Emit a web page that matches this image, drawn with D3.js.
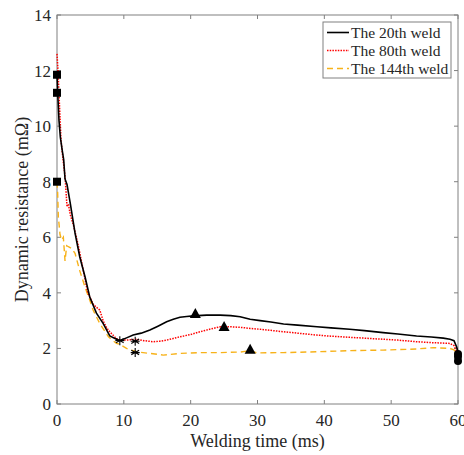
<!DOCTYPE html>
<html><head><meta charset="utf-8">
<script src="https://cdn.jsdelivr.net/npm/d3@7"></script>
<style>body{margin:0;background:#fff}svg{display:block}</style>
</head><body><div id="chart"></div>
<script>
const xTicks = [0,10,20,30,40,50,60];
const yTicks = [0,2,4,6,8,10,12,14];
const seriesNames = ["The 20th weld","The 80th weld","The 144th weld"];

const weld20T = [0,0.1,0.3,0.5,0.8,1.0,1.2,1.5,2.0,2.7,3.4,4.2,4.9,5.9,6.9,7.9,8.9,9.4,10.4,11.4,12.6,13.9,15.1,16.4,17.4,18.4,19.4,20.4,22.4,24.4,26,27.4,28.9,30.4,32,33.9,36,38.9,41,43.8,46,48.8,51,53.8,56,57.8,58.8,59.4,59.8,60];
const weld20R = [11.85,11.2,10.2,9.6,9.1,8.8,8.1,7.9,7.2,6.15,5.3,4.57,3.85,3.27,2.9,2.45,2.33,2.28,2.38,2.48,2.55,2.66,2.8,2.96,3.05,3.12,3.15,3.17,3.2,3.2,3.18,3.14,3.05,3.0,2.95,2.88,2.84,2.78,2.74,2.69,2.64,2.57,2.52,2.45,2.41,2.37,2.33,2.28,2.05,1.87];

const weld80T = [0,0.15,0.4,0.6,0.9,1.2,1.5,1.7,2.0,2.5,3.0,3.4,3.9,4.6,5.4,5.8,6.4,6.9,7.4,7.9,8.9,9.4,10.4,11.9,13.0,14.4,15.4,16.4,17.4,18.4,20,21.4,23,24.4,26,27.4,28.9,30.4,33.9,36,38.9,41,43.8,46,48.8,51,53.8,56,58.8,59.4,59.8,60];
const weld80R = [12.6,12.0,10.6,9.5,8.8,8.2,7.1,7.2,6.8,6.4,5.9,5.45,4.85,4.0,3.6,3.5,3.38,3.0,2.75,2.6,2.35,2.3,2.3,2.33,2.28,2.24,2.26,2.3,2.36,2.42,2.5,2.6,2.7,2.78,2.78,2.76,2.72,2.69,2.6,2.55,2.48,2.44,2.4,2.37,2.33,2.3,2.24,2.21,2.18,2.1,1.9,1.75];

const weld144T = [0,0.1,0.2,0.45,0.7,0.95,1.2,1.45,1.7,2.2,2.7,3.4,4.2,4.9,5.4,6.4,7.7,8.9,9.4,10.4,11.9,13.9,15.9,18.4,21.4,24.4,27.4,28.9,29.9,33.9,38.9,43.8,48.8,53.8,56.3,58.8,59.4,59.8,60];
const weld144R = [8.0,7.6,6.74,6.1,5.9,6.0,5.15,5.7,5.66,5.6,5.42,4.8,4.2,3.74,3.38,2.9,2.42,2.18,2.15,2.0,1.88,1.82,1.76,1.82,1.85,1.85,1.87,1.92,1.84,1.85,1.88,1.92,1.94,1.98,2.03,2.0,1.95,1.82,1.75];

const squareT = [0,0,0];
const squareR = [11.85,11.2,8.0];
const starT = [9.4,11.7,11.7];
const starR = [2.28,2.26,1.85];
const triT = [20.7,25.0,28.9];
const triR = [3.24,2.77,1.95];
const circT = [60,60,60];
const circR = [1.8,1.7,1.55];

const FONT = "'Liberation Serif', 'Times New Roman', 'DejaVu Serif', serif";
const W = 464, H = 455;
const m = {l:57, r:6, t:15, b:51};
const svg = d3.select("#chart").append("svg").attr("width",W).attr("height",H)
  .attr("font-family",FONT).style("font-family",FONT);
const x = d3.scaleLinear().domain([0,60]).range([m.l, W-m.r]);
const y = d3.scaleLinear().domain([0,14]).range([H-m.b, m.t]);
const axisColor = "#808080";
const txtColor = "#262626";

svg.append("rect").attr("x",x(0)).attr("y",y(14)).attr("width",x(60)-x(0)).attr("height",y(0)-y(14))
  .attr("fill","none").attr("stroke",axisColor).attr("stroke-width",1);

const tl = 4;
const gx = svg.append("g");
xTicks.forEach(v=>{
  gx.append("line").attr("x1",x(v)).attr("x2",x(v)).attr("y1",y(0)).attr("y2",y(0)-tl).attr("stroke",axisColor);
  gx.append("line").attr("x1",x(v)).attr("x2",x(v)).attr("y1",y(14)).attr("y2",y(14)+tl).attr("stroke",axisColor);
  gx.append("text").attr("x",x(v)).attr("y",y(0)+22).attr("text-anchor","middle").attr("font-size",17).attr("fill",txtColor).style("font-family",FONT).text(v);
});
const gy = svg.append("g");
yTicks.forEach(v=>{
  gy.append("line").attr("x1",x(0)).attr("x2",x(0)+tl).attr("y1",y(v)).attr("y2",y(v)).attr("stroke",axisColor);
  gy.append("line").attr("x1",x(60)).attr("x2",x(60)-tl).attr("y1",y(v)).attr("y2",y(v)).attr("stroke",axisColor);
  gy.append("text").attr("x",x(0)-6).attr("y",y(v)+6).attr("text-anchor","end").attr("font-size",17).attr("fill",txtColor).style("font-family",FONT).text(v);
});

svg.append("text").attr("x",(x(0)+x(60))/2).attr("y",447).attr("text-anchor","middle").attr("font-size",18).attr("fill",txtColor).style("font-family",FONT).text("Welding time (ms)");
svg.append("text").attr("transform",`translate(28,${(y(0)+y(14))/2}) rotate(-90)`).attr("text-anchor","middle").attr("font-size",18).attr("fill",txtColor).style("font-family",FONT).text("Dynamic resistance (mΩ)");

const line = d3.line().x(d=>x(d[0])).y(d=>y(d[1]));
const zip = (a,b)=>a.map((v,i)=>[v,b[i]]);
const styles = [
  {c:"#000000", w:1.6, dash:null},
  {c:"#FF0000", w:1.5, dash:"1.5,1.2"},
  {c:"#F7B21A", w:1.4, dash:"6,4"}
];
const data = [zip(weld144T,weld144R), zip(weld80T,weld80R), zip(weld20T,weld20R)];
const st = [styles[2], styles[1], styles[0]];
data.forEach((d,i)=>{
  svg.append("path").attr("d",line(d)).attr("fill","none").attr("stroke",st[i].c)
    .attr("stroke-width",st[i].w).attr("stroke-dasharray",st[i].dash);
});

squareT.forEach((t,i)=>{
  svg.append("rect").attr("x",x(t)-4).attr("y",y(squareR[i])-4).attr("width",8).attr("height",8).attr("fill","#000");
});
circT.forEach((t,i)=>{
  svg.append("circle").attr("cx",x(t)).attr("cy",y(circR[i])).attr("r",4).attr("fill","#000");
});
triT.forEach((t,i)=>{
  const cx=x(t), cy=y(triR[i]);
  svg.append("path").attr("d",`M${cx},${cy-6}L${cx+5.5},${cy+4}L${cx-5.5},${cy+4}Z`).attr("fill","#000");
});
starT.forEach((t,i)=>{
  const cx=x(t), cy=y(starR[i]), s=4.5;
  let p="";
  [0,60,120].forEach(a=>{const r=a*Math.PI/180;p+=`M${cx-s*Math.sin(r)},${cy-s*Math.cos(r)}L${cx+s*Math.sin(r)},${cy+s*Math.cos(r)}`;});
  p+=`M${cx-s},${cy}L${cx+s},${cy}`;
  svg.append("path").attr("d",p).attr("stroke","#000").attr("stroke-width",1.1).attr("fill","none");
});

const lg = svg.append("g");
lg.append("rect").attr("x",323).attr("y",22).attr("width",128).attr("height",56).attr("fill","#fff").attr("stroke",axisColor);
seriesNames.forEach((n,i)=>{
  const yy = 32.5 + i*18;
  lg.append("line").attr("x1",327).attr("x2",349).attr("y1",yy).attr("y2",yy)
    .attr("stroke",styles[i].c).attr("stroke-width",styles[i].w).attr("stroke-dasharray",styles[i].dash);
  lg.append("text").attr("x",351).attr("y",yy+5).attr("font-size",15.5).attr("fill",txtColor).style("font-family",FONT).text(n);
});
</script></body></html>
